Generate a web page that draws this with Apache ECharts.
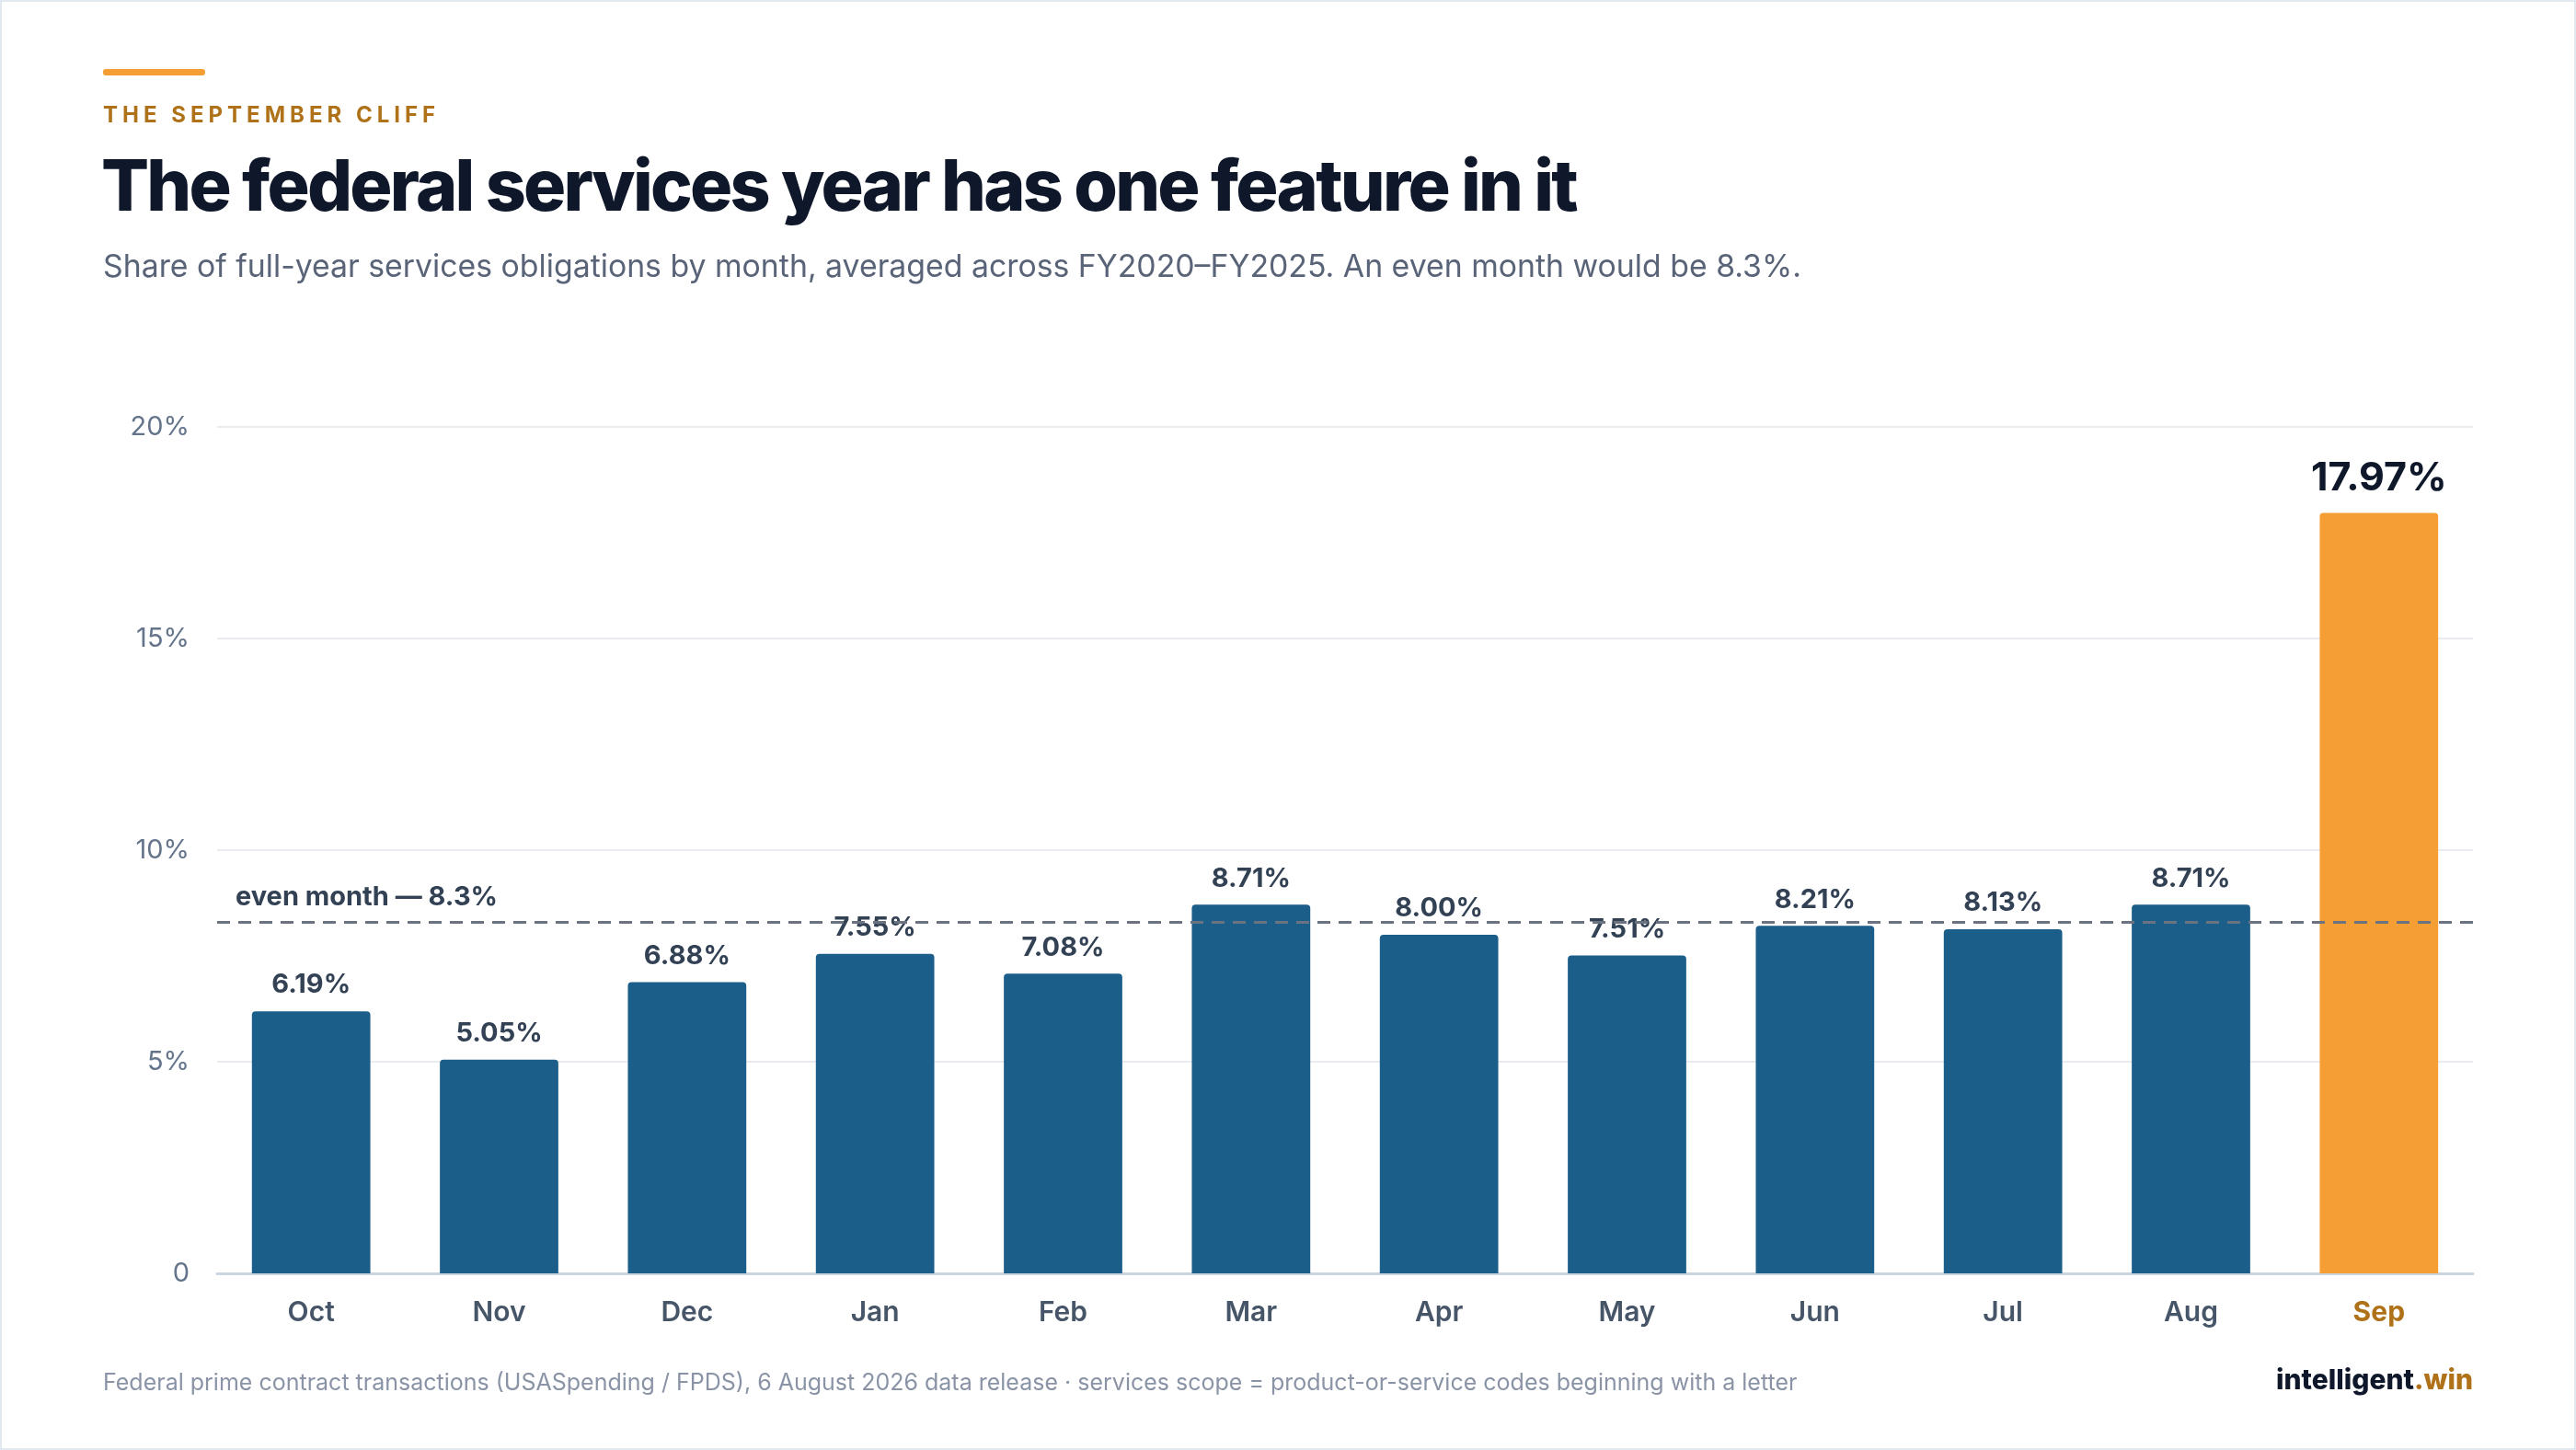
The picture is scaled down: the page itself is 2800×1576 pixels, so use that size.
<!DOCTYPE html>
<html>
<head>
<meta charset="utf-8">
<script src="https://cdn.jsdelivr.net/npm/echarts@6/dist/echarts.min.js"></script>
<style>
  html, body { margin: 0; padding: 0; background: #fff; }
  #card { position: absolute; left: 0; top: 0; width: 2796px; height: 1572px; border: 2px solid #e2e8f0; }
  #chart { position: absolute; left: 0; top: 0; width: 2800px; height: 1576px; }
  .hd { position: absolute; left: 112px; font-family: Inter, "Noto Sans", sans-serif; white-space: nowrap; z-index: 2; }
  #kicker { top: 110px; font-size: 24px; font-weight: 700; color: #b07219; letter-spacing: 5px; }
  #title { top: 154px; left: 110px; font-size: 77px; font-weight: 800; color: #0f172a; letter-spacing: -2.75px; }
</style>
</head>
<body>
<div id="card"></div>
<div id="chart"></div>
<div id="kicker" class="hd">THE SEPTEMBER CLIFF</div>
<div id="title" class="hd">The federal services year has one feature in it</div>
<script>
var months = ['Oct', 'Nov', 'Dec', 'Jan', 'Feb', 'Mar', 'Apr', 'May', 'Jun', 'Jul', 'Aug', 'Sep'];
var shares = [6.19, 5.05, 6.88, 7.55, 7.08, 8.71, 8.00, 7.51, 8.21, 8.13, 8.71, 17.97];
var evenMonth = 8.3;

var font = 'Inter, "Noto Sans", sans-serif';
var blue = '#1b5e8a', orange = '#f59e33';

var barData = shares.map(function (v, i) {
    var sep = i === shares.length - 1;
    return {
        value: v,
        itemStyle: { color: sep ? orange : blue },
        label: sep ? { fontSize: 43, color: '#0f172a', fontWeight: 700, distance: 16 } : {}
    };
});

var chart = echarts.init(document.getElementById('chart'));
chart.setOption({
    animation: false,
    textStyle: { fontFamily: font },
    graphic: [
        { type: 'rect', left: 112, top: 75, shape: { width: 111, height: 7, r: 3 }, style: { fill: orange } },
        { type: 'text', left: 112, top: 274, style: { text: 'Share of full-year services obligations by month, averaged across FY2020\u2013FY2025. An even month would be 8.3%.', fill: '#5a6478', font: '400 33.8px ' + font } },
        { type: 'text', left: 112, top: 1491, style: { text: 'Federal prime contract transactions (USASpending / FPDS), 6 August 2026 data release \u00b7 services scope = product-or-service codes beginning with a letter', fill: '#8a94a6', font: '400 25px ' + font } },
        { type: 'text', right: 112, top: 1486, style: { rich: { a: { fill: '#0f172a', font: '800 30px ' + font }, b: { fill: '#b07219', font: '800 30px ' + font } }, text: '{a|intelligent}{b|.win}' } }
    ],
    grid: { left: 236, right: 112, top: 464, bottom: 192 },
    xAxis: {
        type: 'category',
        data: months,
        axisTick: { show: false },
        axisLine: { lineStyle: { color: '#cbd5e1', width: 3 } },
        axisLabel: {
            margin: 28, fontSize: 30, fontWeight: 600, color: '#475569',
            formatter: function (v) { return v === 'Sep' ? '{s|' + v + '}' : v; },
            rich: { s: { fontSize: 30, fontWeight: 700, color: '#b07219' } }
        }
    },
    yAxis: {
        type: 'value', min: 0, max: 20, interval: 5,
        axisLabel: {
            margin: 30, fontSize: 29, color: '#64748b',
            formatter: function (v) { return v === 0 ? '0' : v + '%'; }
        },
        splitLine: { lineStyle: { color: '#e8ecf1', width: 2 } },
        axisLine: { show: false }, axisTick: { show: false }
    },
    series: [{
        type: 'bar',
        data: barData,
        barCategoryGap: '37%',
        itemStyle: { borderRadius: [4, 4, 0, 0] },
        label: {
            show: true, position: 'top', distance: 14,
            fontSize: 29, fontWeight: 700, color: '#334155',
            formatter: function (p) { return p.value.toFixed(2) + '%'; }
        },
        markLine: {
            silent: true, symbol: 'none',
            lineStyle: { color: '#6b7280', type: [14, 9], width: 3 },
            label: {
                position: 'insideStartTop', formatter: 'even month \u2014 8.3%',
                fontSize: 29, fontWeight: 700, color: '#334155', distance: [20, 12]
            },
            data: [{ yAxis: evenMonth }]
        }
    }]
});
</script>
</body>
</html>
